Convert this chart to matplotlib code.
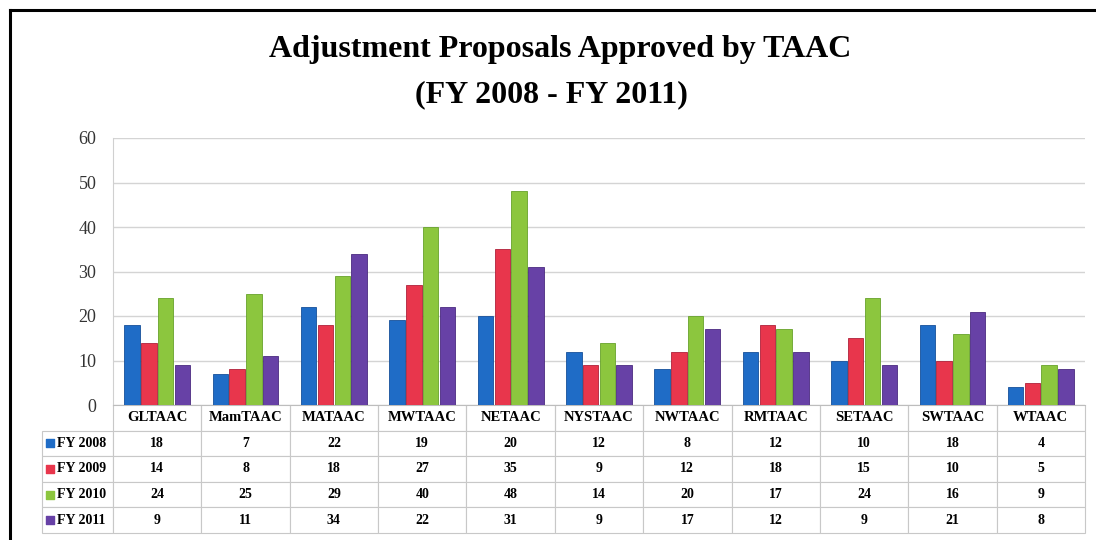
#!/usr/bin/env python3

import matplotlib
matplotlib.use("Agg")
import matplotlib.pyplot as plt
from matplotlib.lines import Line2D
import numpy as np

categories = ['GLTAAC', 'MamTAAC', 'MATAAC', 'MWTAAC', 'NETAAC', 'NYSTAAC',
              'NWTAAC', 'RMTAAC', 'SETAAC', 'SWTAAC', 'WTAAC']
series_names = ['FY 2008', 'FY 2009', 'FY 2010', 'FY 2011']
fy2008 = [18, 7, 22, 19, 20, 12, 8, 12, 10, 18, 4]
fy2009 = [14, 8, 18, 27, 35, 9, 12, 18, 15, 10, 5]
fy2010 = [24, 25, 29, 40, 48, 14, 20, 17, 24, 16, 9]
fy2011 = [9, 11, 34, 22, 31, 9, 17, 12, 9, 21, 8]
series_values = [fy2008, fy2009, fy2010, fy2011]
yticks = [0, 10, 20, 30, 40, 50, 60]

colors = ['#1f6cc6', '#e8364c', '#8cc63e', '#6741a6']
edge_colors = ['#16509a', '#b0213a', '#67a22b', '#4a2a80']
serif = 'Liberation Serif'

W, H = 1096, 540
fig = plt.figure(figsize=(W / 100, H / 100), dpi=100)

# plot area in pixels: x 113..1085, y 138..405
ax = fig.add_axes([113 / W, 1 - 405 / H, (1085 - 113) / W, (405 - 138) / H])

x = np.arange(len(categories))
bar_w = 0.175
step = 0.19
for i, vals in enumerate(series_values):
    offset = (i - 1.5) * step
    ax.bar(x + offset, vals, bar_w, color=colors[i], edgecolor=edge_colors[i],
           linewidth=0.6, zorder=3, label=series_names[i])

ax.set_xlim(-0.5, len(categories) - 0.5)
ax.set_ylim(0, 60)
ax.set_yticks(yticks)
ax.set_yticklabels([str(t) for t in yticks], fontfamily=serif, fontsize=13,
                   color='#333333')
ax.set_xticks([])
ax.tick_params(axis='y', length=0, pad=12)
ax.yaxis.grid(True, color='#d4d4d4', linewidth=1.0, zorder=0)
for s in ['top', 'right']:
    ax.spines[s].set_visible(False)
ax.spines['left'].set_color('#d0d0d0')
ax.spines['bottom'].set_color('#bdbdbd')

# data table under the plot, first column holds the series names
cell_text = [['    ' + name] + [str(v) for v in vals]
             for name, vals in zip(series_names, series_values)]
col_labels = [''] + categories
table_left_px = 42
table_bottom_px = 533
ax_w_px = 1085 - 113
ax_h_px = 405 - 138
bx0 = (table_left_px - 113) / ax_w_px
bw = (1085 - table_left_px) / ax_w_px
bh = (table_bottom_px - 405) / ax_h_px
tbl = ax.table(cellText=cell_text, colLabels=col_labels, cellLoc='center',
               colWidths=[71] + [ax_w_px / len(categories)] * len(categories),
               bbox=[bx0, -bh, bw, bh])
tbl.auto_set_font_size(False)
for (r, c), cell in tbl.get_celld().items():
    cell.set_edgecolor('#c8c8c8')
    cell.set_linewidth(0.8)
    txt = cell.get_text()
    txt.set_fontfamily(serif)
    txt.set_fontweight('bold')
    txt.set_fontsize(10.5 if r == 0 else 10)
    if r == 0:
        cell.visible_edges = 'LRB'
    if c == 0:
        txt.set_ha('left')
        cell._loc = 'left'
        cell.PAD = 0.02
        if r == 0:
            cell.visible_edges = ''

# colored keys in the series name cells
n_rows = len(series_names) + 1
row_h = bh / n_rows
for i in range(len(series_names)):
    yc = -bh + (n_rows - 1.5 - i) * row_h
    ax.scatter([bx0 + 0.0085], [yc], marker='s', s=26, color=colors[i],
               transform=ax.transAxes, clip_on=False, zorder=5)

fig.text(0.511, 1 - 50 / H, 'Adjustment Proposals Approved by TAAC',
         ha='center', va='center', fontfamily=serif, fontweight='bold',
         fontsize=23)
fig.text(0.503, 1 - 95 / H, '(FY 2008 - FY 2011)',
         ha='center', va='center', fontfamily=serif, fontweight='bold',
         fontsize=23)

# frame around the chart
fig.add_artist(Line2D([10 / W, 10 / W], [0, 1 - 10 / H], color='black',
                      linewidth=2.2, transform=fig.transFigure))
fig.add_artist(Line2D([10 / W, 1], [1 - 10 / H, 1 - 10 / H], color='black',
                      linewidth=2.2, transform=fig.transFigure))

fig.savefig('out.png', dpi=100)
